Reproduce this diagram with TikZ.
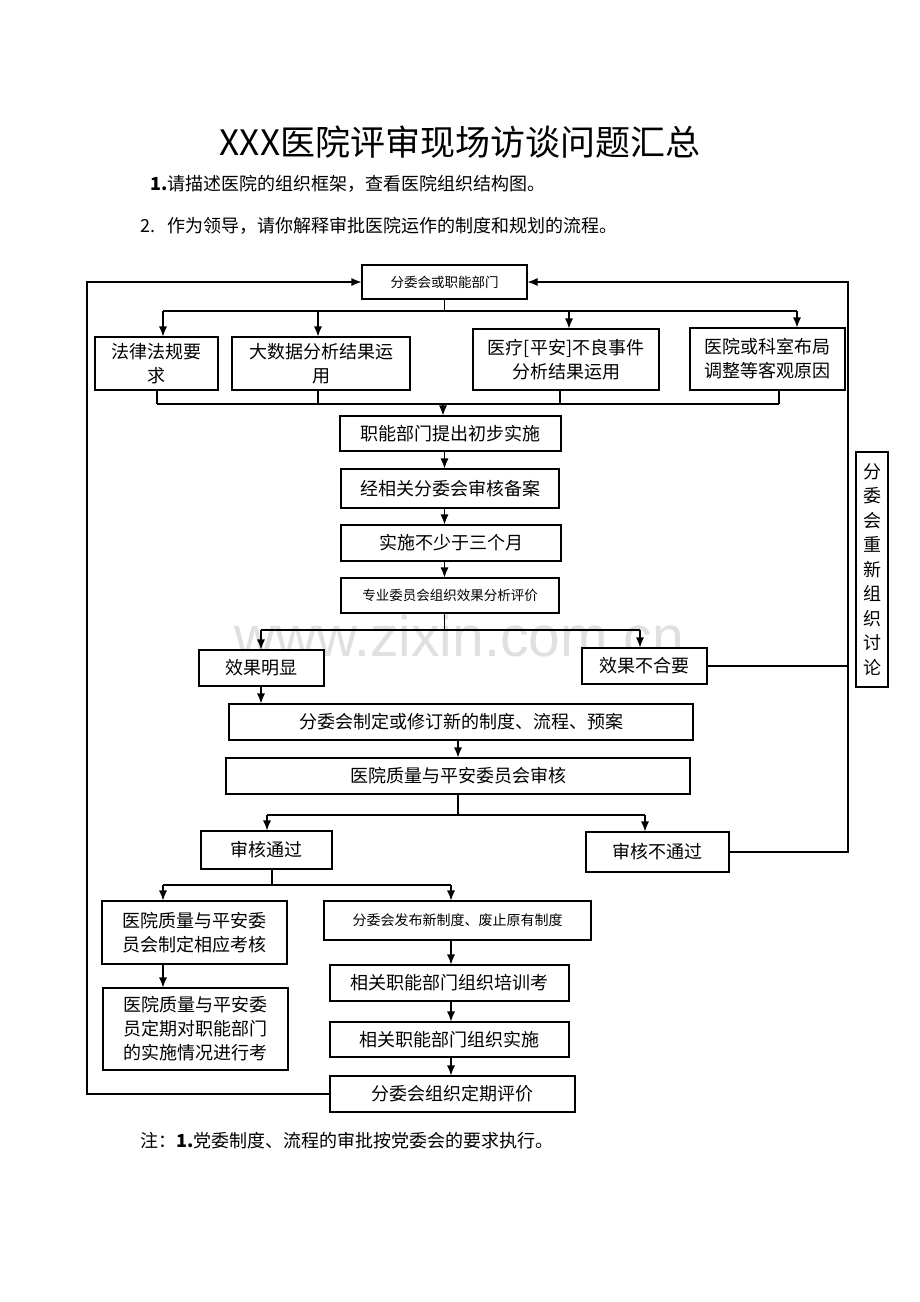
\documentclass[tikz,border=0pt]{standalone}
\usepackage{fontspec}
\setmainfont{Noto Sans CJK SC}
\newfontfamily\wmfont{Liberation Sans}
\usetikzlibrary{arrows.meta}
\begin{document}
\begin{tikzpicture}[x=1pt,y=-1pt,
  box/.style={draw, fill=white, line width=1.1pt, inner sep=0pt, align=center, font=\fontsize{18pt}{24pt}\selectfont},
  small/.style={font=\fontsize{13.5pt}{16pt}\selectfont},
  ln/.style={line width=1.1pt},
  arr/.style={line width=1.1pt, -{Latex[length=10pt,width=8pt]}},
  txt/.style={inner sep=0pt, font=\fontsize{18pt}{22pt}\selectfont}]
\useasboundingbox (0,0) rectangle (920,1302);
\fill[white] (0,0) rectangle (920,1302);
% watermark
\node[inner sep=0pt, text=black!12, font=\wmfont\fontsize{57pt}{60pt}\selectfont] (wm) at (459,636) {www.zixin.com.cn};
% headings
\node[inner sep=0pt, font=\fontsize{35pt}{40pt}\selectfont] (title) at (460,142) {XXX医院评审现场访谈问题汇总};
\node[txt, anchor=west] (q1) at (150,184) {\textbf{1.}请描述医院的组织框架，查看医院组织结构图。};
\node[txt, anchor=west] (q2) at (140,226) {2.\hspace{12pt}作为领导，请你解释审批医院运作的制度和规划的流程。};
\node[txt, anchor=west] (note) at (140,1141) {注：\textbf{1.}党委制度、流程的审批按党委会的要求执行。};
% boxes
\node[box, small, minimum width=165pt, minimum height=34pt] (top) at (444.5,282) {分委会或职能部门};
\node[box, minimum width=123pt, minimum height=53pt] (law) at (156.5,363.5) {法律法规要\\求};
\node[box, minimum width=178pt, minimum height=53pt] (big) at (321,363.5) {大数据分析结果运\\用};
\node[box, minimum width=186pt, minimum height=61pt] (med) at (566,359.5) {医疗[平安]不良事件\\分析结果运用};
\node[box, minimum width=155pt, minimum height=62pt] (layout) at (767.5,359) {医院或科室布局\\调整等客观原因};
\node[box, minimum width=221pt, minimum height=35pt] (init) at (450.5,433.5) {职能部门提出初步实施};
\node[box, minimum width=218pt, minimum height=39pt] (review) at (450,488.5) {经相关分委会审核备案};
\node[box, minimum width=220pt, minimum height=36pt] (three) at (451,543) {实施不少于三个月};
\node[box, small, minimum width=218pt, minimum height=35pt] (eval) at (450,595.5) {专业委员会组织效果分析评价};
\node[box, minimum width=125pt, minimum height=36pt] (good) at (261.5,668) {效果明显};
\node[box, minimum width=125pt, minimum height=36pt] (bad) at (644.5,666) {效果不合要};
\node[box, minimum width=32pt, minimum height=235pt, font=\fontsize{18pt}{24.5pt}\selectfont] (rediscuss) at (872,569.5) {分\\委\\会\\重\\新\\组\\织\\讨\\论};
\node[box, minimum width=464pt, minimum height=36pt] (revise) at (461,722) {分委会制定或修订新的制度、流程、预案};
\node[box, minimum width=464pt, minimum height=36pt] (qs) at (458,776) {医院质量与平安委员会审核};
\node[box, minimum width=131pt, minimum height=38pt] (pass) at (266.5,850) {审核通过};
\node[box, minimum width=143pt, minimum height=40pt] (fail) at (657.5,852) {审核不通过};
\node[box, minimum width=185pt, minimum height=63pt] (assess) at (194.5,932.5) {医院质量与平安委\\员会制定相应考核};
\node[box, minimum width=185pt, minimum height=82pt] (periodic) at (195.5,1029) {医院质量与平安委\\员定期对职能部门\\的实施情况进行考};
\node[box, font=\fontsize{14pt}{16pt}\selectfont, minimum width=267pt, minimum height=39pt] (publish) at (457.5,920.5) {分委会发布新制度、废止原有制度};
\node[box, minimum width=239pt, minimum height=36pt] (train) at (449.5,983) {相关职能部门组织培训考};
\node[box, minimum width=239pt, minimum height=35pt] (impl) at (449.5,1039.5) {相关职能部门组织实施};
\node[box, minimum width=245pt, minimum height=36pt] (final) at (452.5,1094) {分委会组织定期评价};
% fan out from top
\coordinate (fa) at (163,311);
\coordinate (fb) at (318,311);
\coordinate (fc) at (569,311);
\coordinate (fd) at (797,311);
\draw[ln] (top.south) -- (top.south |- fa);
\draw[ln] (fa) -- (fd);
\draw[arr] (fa) -- (fa |- law.north);
\draw[arr] (fb) -- (fb |- big.north);
\draw[arr] (fc) -- (fc |- med.north);
\draw[arr] (fd) -- (fd |- layout.north);
% fan in
\coordinate (ga) at (157,404);
\coordinate (gb) at (318,404);
\coordinate (gc) at (560,404);
\coordinate (gd) at (779,404);
\coordinate (gm) at (443,404);
\draw[ln] (ga |- law.south) -- (ga);
\draw[ln] (gb |- big.south) -- (gb);
\draw[ln] (gc |- med.south) -- (gc);
\draw[ln] (gd |- layout.south) -- (gd);
\draw[ln] (ga) -- (gd);
\draw[arr] (gm) -- (gm |- init.north);
% chain
\draw[arr] (top.south |- init.south) -- (top.south |- review.north);
\draw[arr] (top.south |- review.south) -- (top.south |- three.north);
\draw[arr] (top.south |- three.south) -- (top.south |- eval.north);
% split after eval
\coordinate (ea) at (261,630);
\coordinate (eb) at (640,630);
\draw[ln] (top.south |- eval.south) -- (top.south |- ea);
\draw[ln] (ea) -- (eb);
\draw[arr] (ea) -- (ea |- good.north);
\draw[arr] (eb) -- (eb |- bad.north);
\draw[arr] (ea |- good.south) -- (ea |- revise.north);
\draw[arr] (revise.south -| qs.north) -- (qs.north);
% split after qs
\coordinate (qa) at (267,815);
\coordinate (qb) at (645,815);
\draw[ln] (qs.south) -- (qs.south |- qa);
\draw[ln] (qa) -- (qb);
\draw[arr] (qa) -- (qa |- pass.north);
\draw[arr] (qb) -- (qb |- fail.north);
% split after pass
\coordinate (pa) at (163,885);
\coordinate (pb) at (451,885);
\coordinate (pc) at (272,885);
\draw[ln] (pc |- pass.south) -- (pc);
\draw[ln] (pa) -- (pb);
\draw[arr] (pa) -- (pa |- assess.north);
\draw[arr] (pb) -- (pb |- publish.north);
\draw[arr] (pa |- assess.south) -- (pa |- periodic.north);
\draw[arr] (pb |- publish.south) -- (pb |- train.north);
\draw[arr] (pb |- train.south) -- (pb |- impl.north);
\draw[arr] (pb |- impl.south) -- (pb |- final.north);
% loops
\coordinate (L) at (87,0);
\coordinate (R) at (848,0);
\draw[arr] (final.west) -- (final.west -| L) -- (L |- top.west) -- (top.west);
\draw[arr] (fail.east) -- (fail.east -| R) -- (R |- top.east) -- (top.east);
\draw[ln] (bad.east) -- (bad.east -| R);
\end{tikzpicture}
\end{document}
